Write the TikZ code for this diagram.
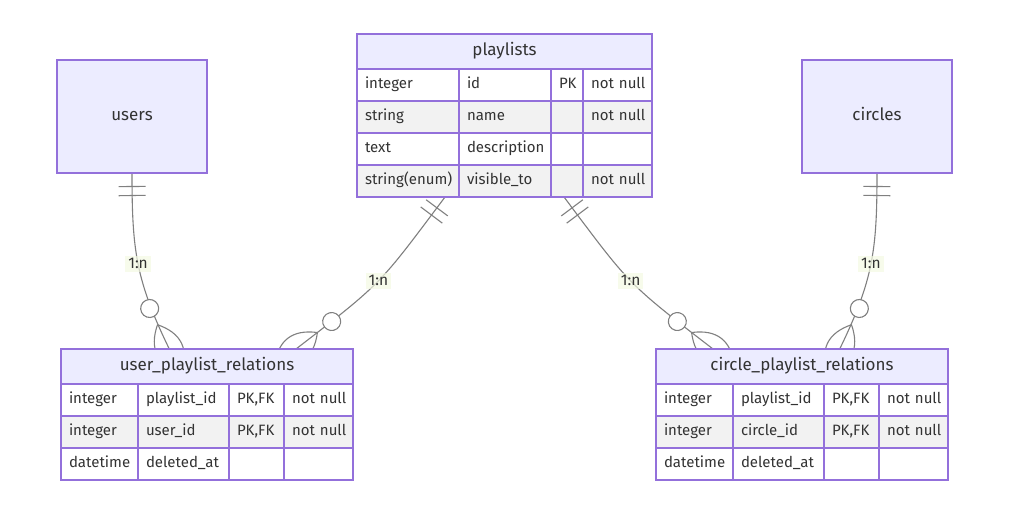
\documentclass[tikz,border=0pt]{standalone}
\usepackage{fontspec}
\setmainfont{Fira Sans}
\usetikzlibrary{positioning,matrix,backgrounds,decorations.markings}

\definecolor{erborder}{HTML}{9370DB}
\definecolor{erfill}{HTML}{ECECFF}
\definecolor{rowgray}{HTML}{F2F2F2}
\definecolor{ertext}{HTML}{333333}
\definecolor{erline}{HTML}{808080}
\definecolor{lblfill}{HTML}{F4FAE3}

\begin{document}
\begin{tikzpicture}[x=1pt,y=-1pt,line width=2pt,
    every node/.style={text=ertext},
    entity/.style={rectangle,draw=erborder,fill=erfill,outer sep=0pt,
                   text height=12pt,text depth=3.5pt,
                   font=\fontsize{17}{20}\selectfont},
    attrs/.style={matrix of nodes,nodes in empty cells,inner sep=-1pt,outer sep=0pt,
                  column sep=-2pt,row sep=-2pt,
                  nodes={rectangle,draw=erborder,fill=white,align=left,inner xsep=8pt,
                         inner ysep=0pt,minimum height=32pt,text height=11pt,text depth=3.5pt,
                         font=\fontsize{15}{18}\selectfont}},
    rel/.style={draw=erline,line width=1.1pt},
    lbl/.style={fill=lblfill,fill opacity=0.7,text opacity=1,inner xsep=3pt,inner ysep=3pt,
                font=\fontsize{15.5}{18}\selectfont},
    one start/.style={postaction={decorate,decoration={markings,
        mark=at position 13.5pt with {\draw[rel] (0,-13.5) -- (0,13.5);},
        mark=at position 22.5pt with {\draw[rel] (0,-13.5) -- (0,13.5);}}}},
    many end/.style={postaction={decorate,decoration={markings,
        mark=at position 0.9999 with {
          \draw[rel] (-27,0) .. controls (-9,18) and (9,18) .. (27,0)
                             .. controls (9,-18) and (-9,-18) .. (-27,0);
          \draw[rel,fill=white] (-45,0) circle (9);}}}}]
  \path[use as bounding box] (0,0) rectangle (1009,509);

  % entities
  \node[entity,minimum width=150pt,minimum height=113pt] (users) at (132,116.5) {users};
  \node[entity,minimum width=150pt,minimum height=113pt] (circles) at (877,116.5) {circles};

  \node[entity,minimum width=295pt,minimum height=35pt] (playlists) at (504.5,51.5) {playlists};
  \matrix (playlists-attr) [attrs,below=0pt of playlists,
      column 1/.style={nodes={text width=86pt}},
      column 2/.style={nodes={text width=76pt}},
      column 3/.style={nodes={text width=16pt}},
      column 4/.style={nodes={text width=53pt}},
      row 2/.style={nodes={fill=rowgray}},
      row 4/.style={nodes={fill=rowgray}}] {
    integer      & id          & PK & not~null \\
    string       & name        &    & not~null \\
    text         & description &    &          \\
    string(enum) & visible\_to &    & not~null \\
  };

  \node[entity,minimum width=292pt,minimum height=35pt] (upr) at (207,366.5) {user\_playlist\_relations};
  \matrix (upr-attr) [attrs,below=0pt of upr,
      column 1/.style={nodes={text width=61pt}},
      column 2/.style={nodes={text width=75pt}},
      column 3/.style={nodes={text width=39pt}},
      column 4/.style={nodes={text width=53pt}},
      row 2/.style={nodes={fill=rowgray}}] {
    integer  & playlist\_id & PK,FK & not~null \\
    integer  & user\_id     & PK,FK & not~null \\
    datetime & deleted\_at  &       &          \\
  };

  \node[entity,minimum width=292pt,minimum height=35pt] (cpr) at (802,366.5) {circle\_playlist\_relations};
  \matrix (cpr-attr) [attrs,below=0pt of cpr,
      column 1/.style={nodes={text width=61pt}},
      column 2/.style={nodes={text width=75pt}},
      column 3/.style={nodes={text width=39pt}},
      column 4/.style={nodes={text width=53pt}},
      row 2/.style={nodes={fill=rowgray}}] {
    integer  & playlist\_id & PK,FK & not~null \\
    integer  & circle\_id   & PK,FK & not~null \\
    datetime & deleted\_at  &       &          \\
  };

  % relationships, under the boxes
  \begin{scope}[on background layer]
    \fill[white] (0,0) rectangle (1009,509);
    \draw[rel,one start,many end] (users.south)
      .. controls +(0,77) and +(-33.6,-69.3) .. ([xshift=108.3pt]upr.north west)
      node[lbl,pos=0.5] {1:n};
    \draw[rel,one start,many end] ([xshift=88pt]playlists-attr.south west)
      .. controls +(-66,88) and +(87,-67) .. ([xshift=235pt]upr.north west)
      node[lbl,pos=0.5] {1:n};
    \draw[rel,one start,many end] ([xshift=207pt]playlists-attr.south west)
      .. controls +(66,88) and +(-87,-67) .. ([xshift=57pt]cpr.north west)
      node[lbl,pos=0.5] {1:n};
    \draw[rel,one start,many end] (circles.south)
      .. controls +(0,77) and +(33.6,-69.3) .. ([xshift=183.7pt]cpr.north west)
      node[lbl,pos=0.5] {1:n};
  \end{scope}
\end{tikzpicture}
\end{document}
